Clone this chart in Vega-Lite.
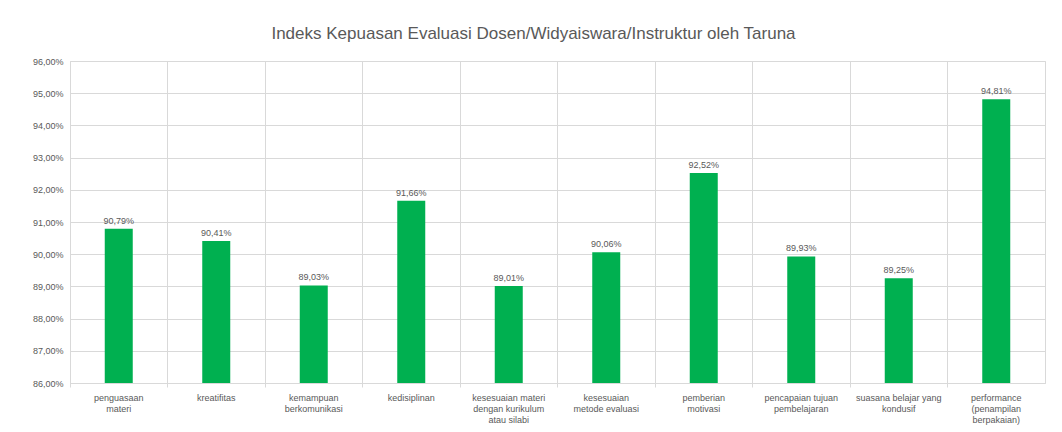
{
  "$schema": "https://vega.github.io/schema/vega-lite/v6.json",
  "width": 975,
  "height": 322,
  "autosize": "none",
  "padding": {"left": 70, "top": 61, "right": 17, "bottom": 49},
  "background": "white",
  "title": {
    "text": "Indeks Kepuasan Evaluasi Dosen/Widyaiswara/Instruktur oleh Taruna",
    "fontSize": 17,
    "font": "Liberation Sans",
    "fontWeight": "normal",
    "color": "#595959",
    "offset": 14,
    "dx": -24
  },
  "config": {
    "locale": {
      "number": {"decimal": ",", "thousands": ".", "grouping": [3], "currency": ["Rp", ""]}
    },
    "view": {"stroke": "#d9d9d9"},
    "font": "Liberation Sans"
  },
  "data": {
    "values": [
      {"aspek": "penguasaan|materi", "nilai": 0.9079},
      {"aspek": "kreatifitas", "nilai": 0.9041},
      {"aspek": "kemampuan|berkomunikasi", "nilai": 0.8903},
      {"aspek": "kedisiplinan", "nilai": 0.9166},
      {"aspek": "kesesuaian materi|dengan kurikulum|atau silabi", "nilai": 0.8901},
      {"aspek": "kesesuaian|metode evaluasi", "nilai": 0.9006},
      {"aspek": "pemberian|motivasi", "nilai": 0.9252},
      {"aspek": "pencapaian tujuan|pembelajaran", "nilai": 0.8993},
      {"aspek": "suasana belajar yang|kondusif", "nilai": 0.8925},
      {"aspek": "performance|(penampilan|berpakaian)", "nilai": 0.9481}
    ]
  },
  "encoding": {
    "x": {
      "field": "aspek",
      "type": "nominal",
      "sort": null,
      "title": null,
      "scale": {"paddingInner": 0, "paddingOuter": 0},
      "axis": {
        "labelAngle": 0,
        "labelExpr": "split(datum.label, '|')",
        "labelFontSize": 9,
        "labelColor": "#595959",
        "labelLineHeight": 11,
        "labelPadding": 6,
        "grid": true,
        "gridColor": "#d9d9d9",
        "bandPosition": 0,
        "domainColor": "#d9d9d9",
        "tickColor": "#d9d9d9",
        "tickSize": 4
      }
    },
    "y": {
      "field": "nilai",
      "type": "quantitative",
      "title": null,
      "scale": {"domain": [0.86, 0.96], "nice": false, "zero": false},
      "axis": {
        "values": [0.86, 0.87, 0.88, 0.89, 0.90, 0.91, 0.92, 0.93, 0.94, 0.95, 0.96],
        "format": ".2%",
        "labelFontSize": 9,
        "labelColor": "#595959",
        "labelPadding": 7,
        "gridColor": "#d9d9d9",
        "domain": false,
        "ticks": false
      }
    }
  },
  "layer": [
    {"mark": {"type": "bar", "color": "#00b050", "size": 28, "clip": true}},
    {
      "mark": {"type": "text", "dy": -8, "fontSize": 9, "color": "#595959"},
      "encoding": {"text": {"field": "nilai", "type": "quantitative", "format": ".2%"}}
    }
  ]
}
